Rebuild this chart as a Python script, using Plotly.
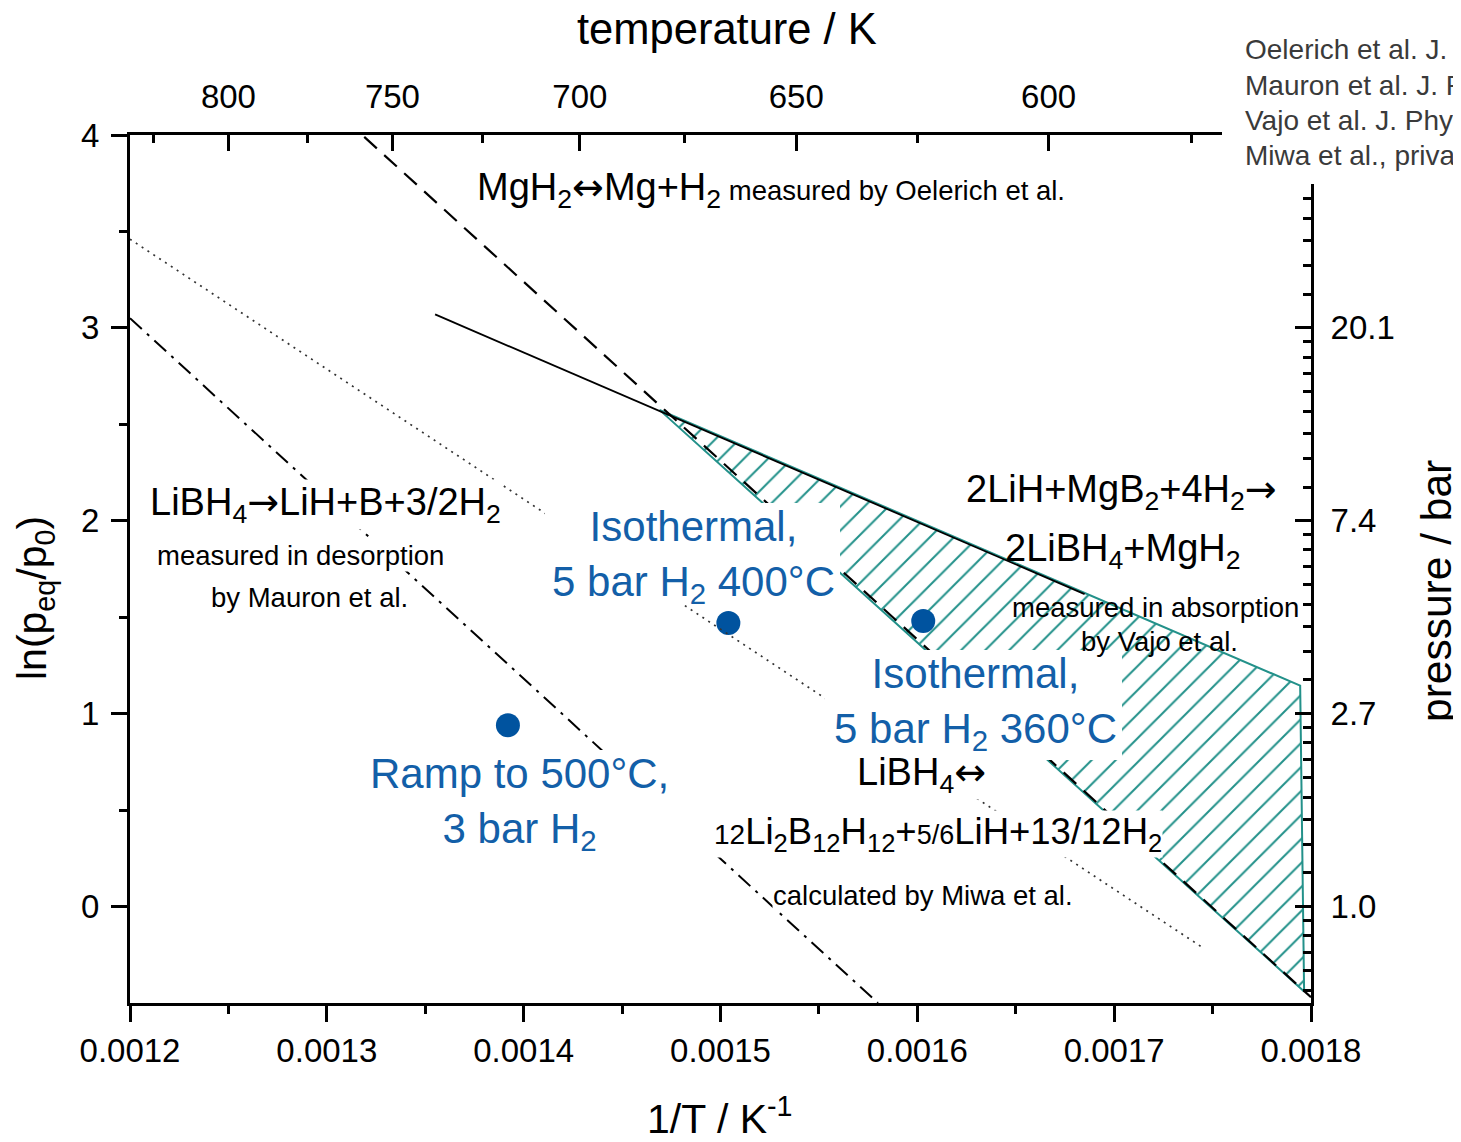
import numpy as np
import plotly.graph_objects as go

# ---------------- data ----------------
inv_T_ticks = [0.0012, 0.0013, 0.0014, 0.0015, 0.0016, 0.0017, 0.0018]
inv_T_tick_labels = ["0.0012", "0.0013", "0.0014", "0.0015", "0.0016", "0.0017", "0.0018"]
inv_T_minor = [0.00125, 0.00135, 0.00145, 0.00155, 0.00165, 0.00175]
temp_ticks_K = [800, 750, 700, 650, 600]
temp_minor_K = [825, 775, 725, 675, 625, 575]
ln_ticks = [0, 1, 2, 3, 4]
ln_minor = [0.5, 1.5, 2.5, 3.5]
pressure_ticks_ln = [0, 1, 2, 3]
pressure_tick_labels = ["1.0", "2.7", "7.4", "20.1"]

# MgH2 <-> Mg + H2 (Oelerich), dashed
mgh2_x = [0.001319, 0.001800]
mgh2_y = [3.99, -0.47]
# 2LiH+MgB2+4H2 -> 2LiBH4+MgH2 (Vajo), solid
vajo_x = [0.001355, 0.001685]
vajo_y = [3.07, 1.62]
# hatched region
region_x = [0.001469, 0.0017945, 0.0017965, 0.001469]
region_y = [2.575, 1.145, -0.44, 2.575]
# LiBH4 <-> Li2B12H12 (Miwa), dotted
miwa_x = [0.001200, 0.001746]
miwa_y = [3.46, -0.22]
# LiBH4 -> LiH+B+3/2H2 (Mauron), dash-dot
mauron_x = [0.001200, 0.001580]
mauron_y = [3.05, -0.50]
# experiments
exp_x = [0.001392, 0.001504, 0.001603]
exp_y = [0.94, 1.47, 1.48]

# ---------------- layout helpers ----------------
OFF = 8                     # page body margin
W, H = 1461 - OFF, 1142 - OFF
L, R, T, B = 130, 1311, 135, 1003   # plot edges in page pixels
FONT = "Liberation Sans, Arial, sans-serif"
ARROW = "<span style='font-family:DejaVu Sans'>{}</span>"
TEAL = "#23918a"
BLUE_T = "#135fa8"
BLUE_M = "#00539f"
BIG, SMALL = 38, 27.5


def P(px, py):
    return (px - L) / (R - L), (B - py) / (B - T)


# right-axis minor ticks: linear in pressure between e^n and e^(n+1)
p_minor = []
for n in range(-1, 4):
    lo, hi = np.e ** n, np.e ** (n + 1)
    for k in range(1, 9):
        v = float(np.log(lo + k * (hi - lo) / 9))
        if -0.5 < v < 4:
            p_minor.append(v)

fig = go.Figure()

fig.add_trace(go.Scatter(
    x=region_x, y=region_y, mode="lines", fill="toself",
    fillcolor="rgba(0,0,0,0)",
    fillpattern=dict(shape="/", fgcolor=TEAL, fgopacity=1, bgcolor="rgba(0,0,0,0)", size=17, solidity=0.12),
    line=dict(color=TEAL, width=2), showlegend=False, hoverinfo="skip"))

fig.add_trace(go.Scatter(x=mgh2_x, y=mgh2_y, mode="lines",
                         line=dict(color="black", width=2.2, dash="17px,10px"), showlegend=False))
fig.add_trace(go.Scatter(x=vajo_x, y=vajo_y, mode="lines",
                         line=dict(color="black", width=1.8), showlegend=False))
fig.add_trace(go.Scatter(x=miwa_x, y=miwa_y, mode="lines", xaxis="x2",
                         line=dict(color="#333", width=1.7, dash="2px,5px"), showlegend=False))
fig.add_trace(go.Scatter(x=mauron_x, y=mauron_y, mode="lines", yaxis="y2",
                         line=dict(color="black", width=2, dash="16px,7px,3px,7px"), showlegend=False))
fig.add_trace(go.Scatter(x=exp_x, y=exp_y, mode="markers",
                         marker=dict(color=BLUE_M, size=24), showlegend=False))

# white boxes (page pixels)
boxes = [(1222, -10, 1480, 184), (545, 503, 840, 605), (825, 650, 1122, 760), (362, 750, 715, 858)]
shapes = []
for x0, y0, x1, y1 in boxes:
    a0, b0 = P(x0, y1)
    a1, b1 = P(x1, y0)
    shapes.append(dict(type="rect", xref="paper", yref="paper", x0=a0, y0=b0, x1=a1, y1=b1,
                       fillcolor="white", line=dict(width=0), layer="above"))

annotations = []


def ann(text, px, py, size, color="black", xanchor="center", bg=None, angle=0, align="center"):
    x, y = P(px, py)
    d = dict(text=text, x=x, y=y, xref="paper", yref="paper", showarrow=False,
             xanchor=xanchor, yanchor="middle", align=align, textangle=angle,
             font=dict(family=FONT, size=size, color=color), borderpad=0)
    if bg:
        d["bgcolor"] = bg
    annotations.append(d)


# axis titles
ann("temperature / K", 727, 29, 43.5)
ann("1/T / K<sup>-1</sup>", 720, 1116, 41)
ann("ln(p<sub>eq</sub>/p<sub>0</sub>)", 35, 598, 41, angle=-90)
ann("pressure / bar", 1436, 591, 42.5, angle=-90)

# chemistry labels
ann("MgH<sub>2</sub>" + ARROW.format("↔") + "Mg+H<sub>2</sub>"
    "<span style='font-size:%spx'> measured by Oelerich et al.</span>" % SMALL,
    476, 189, BIG, xanchor="left")
ann("LiBH<sub>4</sub>" + ARROW.format("→") + "LiH+B+3/2H<sub>2</sub>", 149, 504, BIG, xanchor="left", bg="white")
ann("measured in desorption", 300, 555, SMALL, bg="white")
ann("by Mauron et al.", 309, 597, SMALL)
ann("2LiH+MgB<sub>2</sub>+4H<sub>2</sub>" + ARROW.format("→"), 965, 491, BIG, xanchor="left")
ann("2LiBH<sub>4</sub>+MgH<sub>2</sub>", 1004, 551, BIG, xanchor="left")
ann("measured in absorption", 1011, 607, SMALL, xanchor="left")
ann("by Vajo et al.", 1080, 641, SMALL, xanchor="left")
ann("LiBH<sub>4</sub>" + ARROW.format("↔"), 856, 774, BIG, xanchor="left", bg="white")
ann("<span style='font-size:28px'>12</span>Li<sub>2</sub>B<sub>12</sub>H<sub>12</sub>+"
    "<span style='font-size:27px'>5/6</span>LiH+13/12H<sub>2</sub>", 713, 834, 36.5, xanchor="left", bg="white")
ann("calculated by Miwa et al.", 772, 895, SMALL, xanchor="left", bg="white")

# blue experiment labels
ann("Isothermal,<br>5 bar H<sub>2</sub> 400°C", 693, 556, 42, color=BLUE_T)
ann("Isothermal,<br>5 bar H<sub>2</sub> 360°C", 976, 703, 42, color=BLUE_T)
ann("Ramp to 500°C,<br>3 bar H<sub>2</sub>", 519, 803, 42, color=BLUE_T)

# references
refs = ["Oelerich et al. J. Alloys Compd.", "Mauron et al. J. Phys. Chem. B",
        "Vajo et al. J. Phys. Chem. B", "Miwa et al., private communication"]
for i, r in enumerate(refs):
    ann(r, 1244, 50 + i * 35.3, 28, color="#3a3a3a", xanchor="left")

axis_common = dict(showline=True, linewidth=3, linecolor="black", showgrid=False, zeroline=False,
                   tickcolor="black", tickwidth=2.5, ticklen=16,
                   tickfont=dict(family=FONT, size=33, color="black"))

fig.update_layout(
    width=W, height=H, autosize=False,
    margin=dict(l=L - OFF, r=W - (R - OFF), t=T - OFF, b=H - (B - OFF), pad=0),
    paper_bgcolor="white", plot_bgcolor="white",
    font=dict(family=FONT, color="black"),
    showlegend=False,
    xaxis=dict(range=[0.0012, 0.0018], tickmode="array", tickvals=inv_T_ticks, ticktext=inv_T_tick_labels,
               ticks="outside", ticklabelstandoff=0,
               minor=dict(tickmode="array", tickvals=inv_T_minor, ticks="outside", ticklen=8,
                          tickwidth=2.5, tickcolor="black", showgrid=False),
               **axis_common),
    xaxis2=dict(range=[0.0012, 0.0018], overlaying="x", side="top", anchor="y",
                tickmode="array", tickvals=[1 / t for t in temp_ticks_K], ticktext=[str(t) for t in temp_ticks_K],
                ticks="inside", ticklabelstandoff=11,
                minor=dict(tickmode="array", tickvals=[1 / t for t in temp_minor_K], ticks="inside", ticklen=8,
                           tickwidth=2.5, tickcolor="black", showgrid=False),
                **axis_common),
    yaxis=dict(range=[-0.5, 4], tickmode="array", tickvals=ln_ticks, ticktext=[str(v) for v in ln_ticks],
               ticks="outside", ticklabelstandoff=5,
               minor=dict(tickmode="array", tickvals=ln_minor, ticks="outside", ticklen=8,
                          tickwidth=2.5, tickcolor="black", showgrid=False),
               **axis_common),
    yaxis2=dict(range=[-0.5, 4], overlaying="y", side="right", anchor="x",
                tickmode="array", tickvals=pressure_ticks_ln, ticktext=pressure_tick_labels,
                ticks="inside", ticklabelstandoff=10,
                minor=dict(tickmode="array", tickvals=p_minor, ticks="inside", ticklen=8,
                           tickwidth=2.5, tickcolor="black", showgrid=False),
                **axis_common),
    shapes=shapes,
    annotations=annotations,
)

fig.write_html("out.html")
